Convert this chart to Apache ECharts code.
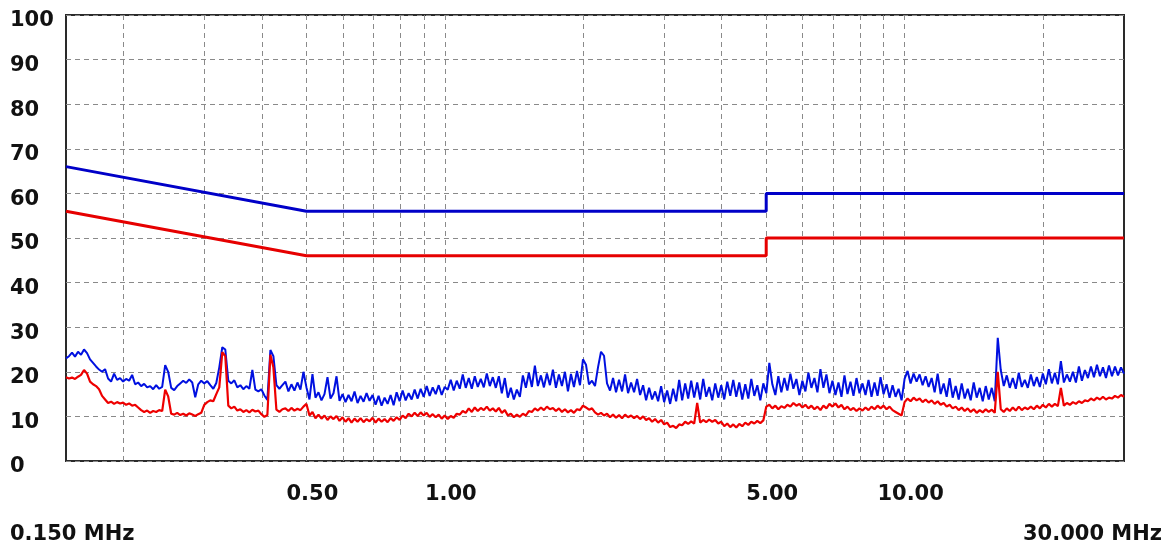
<!DOCTYPE html>
<html>
<head>
<meta charset="utf-8">
<script src="https://cdn.jsdelivr.net/npm/echarts@6/dist/echarts.min.js"></script>
<style>
html,body{margin:0;padding:0;background:#fff;}
#chart{width:1173px;height:547px;}
</style>
</head>
<body>
<div id="chart"></div>
<script>
// Sweep: 0.150 MHz .. 30.000 MHz, log-spaced receiver steps
const sweepStartMHz = 0.15;
const sweepStopMHz = 30;

// Y ticks (dBuV)
const yTicks = [0,10,20,30,40,50,60,70,80,90,100];
// X grid frequencies (MHz) and labelled frequencies
const gridFreqs = [0.2,0.3,0.4,0.5,0.6,0.7,0.8,0.9,1,2,3,4,5,6,7,8,9,10,20];
const labelFreqs = [0.5,1,5,10];

// Limit lines
const limitFreqs = [0.15,0.5,5,5,30];
const qpLimit = [66,56,56,60,60];
const avLimit = [56,46,46,50,50];

const peakTrace = [
23,23.5,24.3,23.4,24.5,23.8,25,24.2,22.8,22,
21.2,20.5,20,20.6,18.5,17.8,19.6,18.2,18.6,17.8,
18.4,18,19.3,17.2,17.6,16.8,17.3,16.5,16.8,16.1,
17,16.2,16.6,21.5,20,16.4,15.9,16.8,17.4,18,
17.5,18.3,17.6,14.3,17.2,18,17.4,17.9,17,16.2,
17.5,21,25.5,25,18,17.4,18.1,16.5,17,16.1,
16.8,16.2,20.4,16,15.6,16.1,14.7,13.7,24.9,23.5,
17,16.2,17,17.8,15.6,17.2,15.8,17.6,16,20,
16.5,13.8,19.5,14.2,15.4,13.6,15,18.8,14,15.2,
19,13.5,15,13.2,14.8,13.4,15.6,13,14.6,13.3,
15.2,13.5,14.8,12.6,14.6,12.4,14.2,12.8,14.8,12.5,
15.4,13.4,15.8,13.6,15.2,13.8,16,14,16.2,14.4,
16.8,14.6,16.5,15,17,14.8,16.6,16,18.2,15.8,
18,16.2,19.4,16.4,18.6,16.2,19,16.6,18.4,16.5,
19.6,16.8,18.8,16.4,19,15.2,18.6,14.2,16.4,13.8,
16,14.4,19.2,16.4,19.8,16.6,21.4,16.8,19.2,16.5,
19.6,17,20.5,16.4,19.4,16.8,20,15.6,19.5,16.6,
20.2,17,22.8,21.6,17.2,18,16.8,21,24.5,23.6,
17.4,15.8,18.6,15.4,18.2,15.6,19.4,15.2,17.6,15.4,
18.4,14.8,17,13.6,16.4,13.8,15.6,13.4,16.8,13.2,
15.8,12.8,16.2,13.4,18.2,13.6,17.4,14,18,14.2,
17.6,13.8,18.4,14.4,16.6,13.6,17.4,14.2,17,13.8,
17.8,14.6,18.2,14.4,17.6,13.8,17.2,14,18.4,14.6,
17,13.6,17.4,15.2,22,17.2,14.8,19,15.4,18.6,
15.8,19.6,16.2,18.4,14.8,18,15.6,19.8,16.4,18.6,
15.4,20.6,16.4,19.4,15.2,18,14.8,17.6,14.4,19.2,
15,17.8,14.6,18.6,15.2,17.4,14.8,18.2,14.4,17.6,
14.6,18.8,15,17.2,14.2,17,14.4,16.2,13.6,18.4,
20.2,17.4,19.6,17.8,19.4,17,19,16.6,18.6,15.4,
19.6,15,17.4,14.4,18.6,14.2,16.8,13.8,17.4,14,
16.2,13.6,17.6,14.2,16.4,13.4,16.8,13.8,16.4,13.4,
27.6,20.4,16.8,19.2,16.4,18.6,16.2,19.8,16.6,18.2,
16.4,19.4,16.8,18.8,16.6,19.6,17.2,20.6,17.4,19.8,
17.2,22.4,17.6,19.4,17.8,20,17.6,21.2,18,20.4,
18.6,21.2,18.8,21.6,19,21,18.6,21.4,19,21.2,
19.2,21,19.6
];
const avgTrace = [
18.8,18.5,18.7,18.4,18.9,19.3,20.4,19.6,17.8,17.2,
16.8,16.1,14.6,13.8,13,13.3,12.8,13.2,12.9,13.1,
12.6,12.9,12.4,12.6,12,11.4,11,11.3,10.8,11.2,
11,11.4,11.2,16,14.5,10.6,10.4,10.8,10.3,10.6,
10.2,10.7,10.4,10.1,10.5,10.8,12.6,13.2,13.6,13.4,
15,16.5,24.4,23.5,12.4,11.8,12.2,11.3,11.6,11,
11.4,10.9,11.5,11.1,11.3,10.5,9.9,10.3,23.8,21,
11.5,11,11.6,11.8,11.2,11.9,11.3,11.7,11.4,12.2,
12.8,10.2,11,9.6,10.4,9.5,10.2,9.2,10,9.4,
10.1,9,9.8,8.8,9.6,8.6,9.5,8.8,9.6,8.7,
9.4,8.9,9.7,8.6,9.5,8.8,9.4,8.7,9.6,9,
9.8,9.2,10.2,9.6,10.6,10,10.8,10.1,10.9,10.2,
10.8,9.9,10.5,9.8,10.4,9.5,10.2,9.4,10.1,9.7,
10.6,10.4,11.2,10.8,11.8,11,12,11.2,11.9,11.4,
12.2,11.3,11.8,11.1,11.9,10.8,11.4,10.2,10.6,9.8,
10.4,9.9,10.6,10.2,11.2,11,11.8,11.3,12,11.4,
12.2,11.6,11.9,11.2,11.8,11,11.6,10.9,11.4,10.8,
11.6,11.4,12.4,12,11.5,11.8,10.9,10.4,10.8,10.2,
10.6,9.8,10.4,9.7,10.3,9.6,10.4,9.8,10.2,9.6,
10.1,9.4,10,9.2,9.6,8.8,9.4,8.6,9.2,8.2,
8.6,7.6,7.9,7.4,8.2,8,8.8,8.3,8.9,8.4,
13,8.6,9.2,8.7,9.3,8.8,9.2,8.4,8.8,7.8,
8.4,7.6,8.2,7.5,8.3,7.8,8.6,8.1,8.8,8.4,
9,8.5,9.1,12.2,12.6,11.8,12.4,11.6,12.3,11.9,
12.6,12.2,13,12.4,12.8,12,12.6,11.8,12.4,11.6,
12.2,11.4,12.4,11.8,12.8,12.2,12.9,12,12.6,11.6,
12.2,11.4,11.9,11.2,11.8,11.3,12,11.4,12.2,11.6,
12.4,11.8,12.4,11.6,12.2,11.4,11,10.6,10.2,13.2,
14,13.4,14.2,13.6,14,13.2,13.8,13.1,13.6,12.8,
13.4,12.6,13,12.2,12.6,11.8,12.2,11.4,12,11.2,
11.8,11,11.6,10.8,11.4,10.9,11.6,11,11.5,10.8,
20,11.6,11,11.8,11.2,12,11.3,12.2,11.4,12,
11.6,12.2,11.6,12.4,11.8,12.6,12,12.8,12.2,12.8,
12.3,16.4,12.4,13,12.6,13.2,12.8,13.4,13,13.6,
13.4,14,13.6,14.2,13.8,14.4,13.8,14.2,14,14.6,
14.2,14.8,14.4
];

const lg = Math.log10;
const xMin = lg(sweepStartMHz), xMax = lg(sweepStopMHz);
function sweepPairs(vals){
  const n = vals.length;
  return vals.map((v,i)=>[xMin + (xMax - xMin) * i / (n - 1), v]);
}
function pairs(freqs, vals){ return freqs.map((f,i)=>[lg(f), vals[i]]); }

const FONT = 'DejaVu Sans';
const chart = echarts.init(document.getElementById('chart'), null, {renderer:'canvas'});
chart.setOption({
  animation:false,
  backgroundColor:'#ffffff',
  grid:{left:66,right:49,top:15,bottom:86,show:true,borderColor:'#2a2a2a',borderWidth:2,backgroundColor:'#fff'},
  xAxis:{
    type:'value', min:xMin, max:xMax,
    axisLine:{show:false},
    axisTick:{show:false, customValues: gridFreqs.map(lg)},
    splitLine:{show:true, lineStyle:{color:'#8a8a8a', width:1, type:[5,4]}},
    axisLabel:{
      customValues: labelFreqs.map(lg),
      formatter: v => Math.pow(10, v).toFixed(2),
      fontFamily:FONT, fontWeight:'bold', fontSize:21, color:'#111',
      margin:23, align:'center', padding:[0,0,0,12]
    }
  },
  yAxis:{
    type:'value', min:yTicks[0], max:yTicks[yTicks.length-1], interval:10,
    axisLine:{show:false}, axisTick:{show:false},
    splitLine:{show:true, lineStyle:{color:'#8a8a8a', width:1, type:[5,4]}},
    axisLabel:{fontFamily:FONT, fontWeight:'bold', fontSize:21, color:'#111',
      align:'left', margin:56, verticalAlign:'top', lineHeight:12}
  },
  graphic:[
    {type:'text', left:10, top:524, style:{text:'0.150 MHz', font:'bold 21px "DejaVu Sans"', fill:'#111'}},
    {type:'text', right:11, top:524, style:{text:'30.000 MHz', font:'bold 21px "DejaVu Sans"', fill:'#111'}}
  ],
  series:[
    {name:'QP limit', type:'line', data:pairs(limitFreqs, qpLimit), showSymbol:false,
      lineStyle:{color:'#0000c8', width:3}, z:3},
    {name:'AV limit', type:'line', data:pairs(limitFreqs, avLimit), showSymbol:false,
      lineStyle:{color:'#e60000', width:3}, z:3},
    {name:'Peak', type:'line', data:sweepPairs(peakTrace), showSymbol:false,
      lineStyle:{color:'#0010e0', width:2}, z:4},
    {name:'Average', type:'line', data:sweepPairs(avgTrace), showSymbol:false,
      lineStyle:{color:'#ee0000', width:2.2}, z:5}
  ]
});
</script>
</body>
</html>
